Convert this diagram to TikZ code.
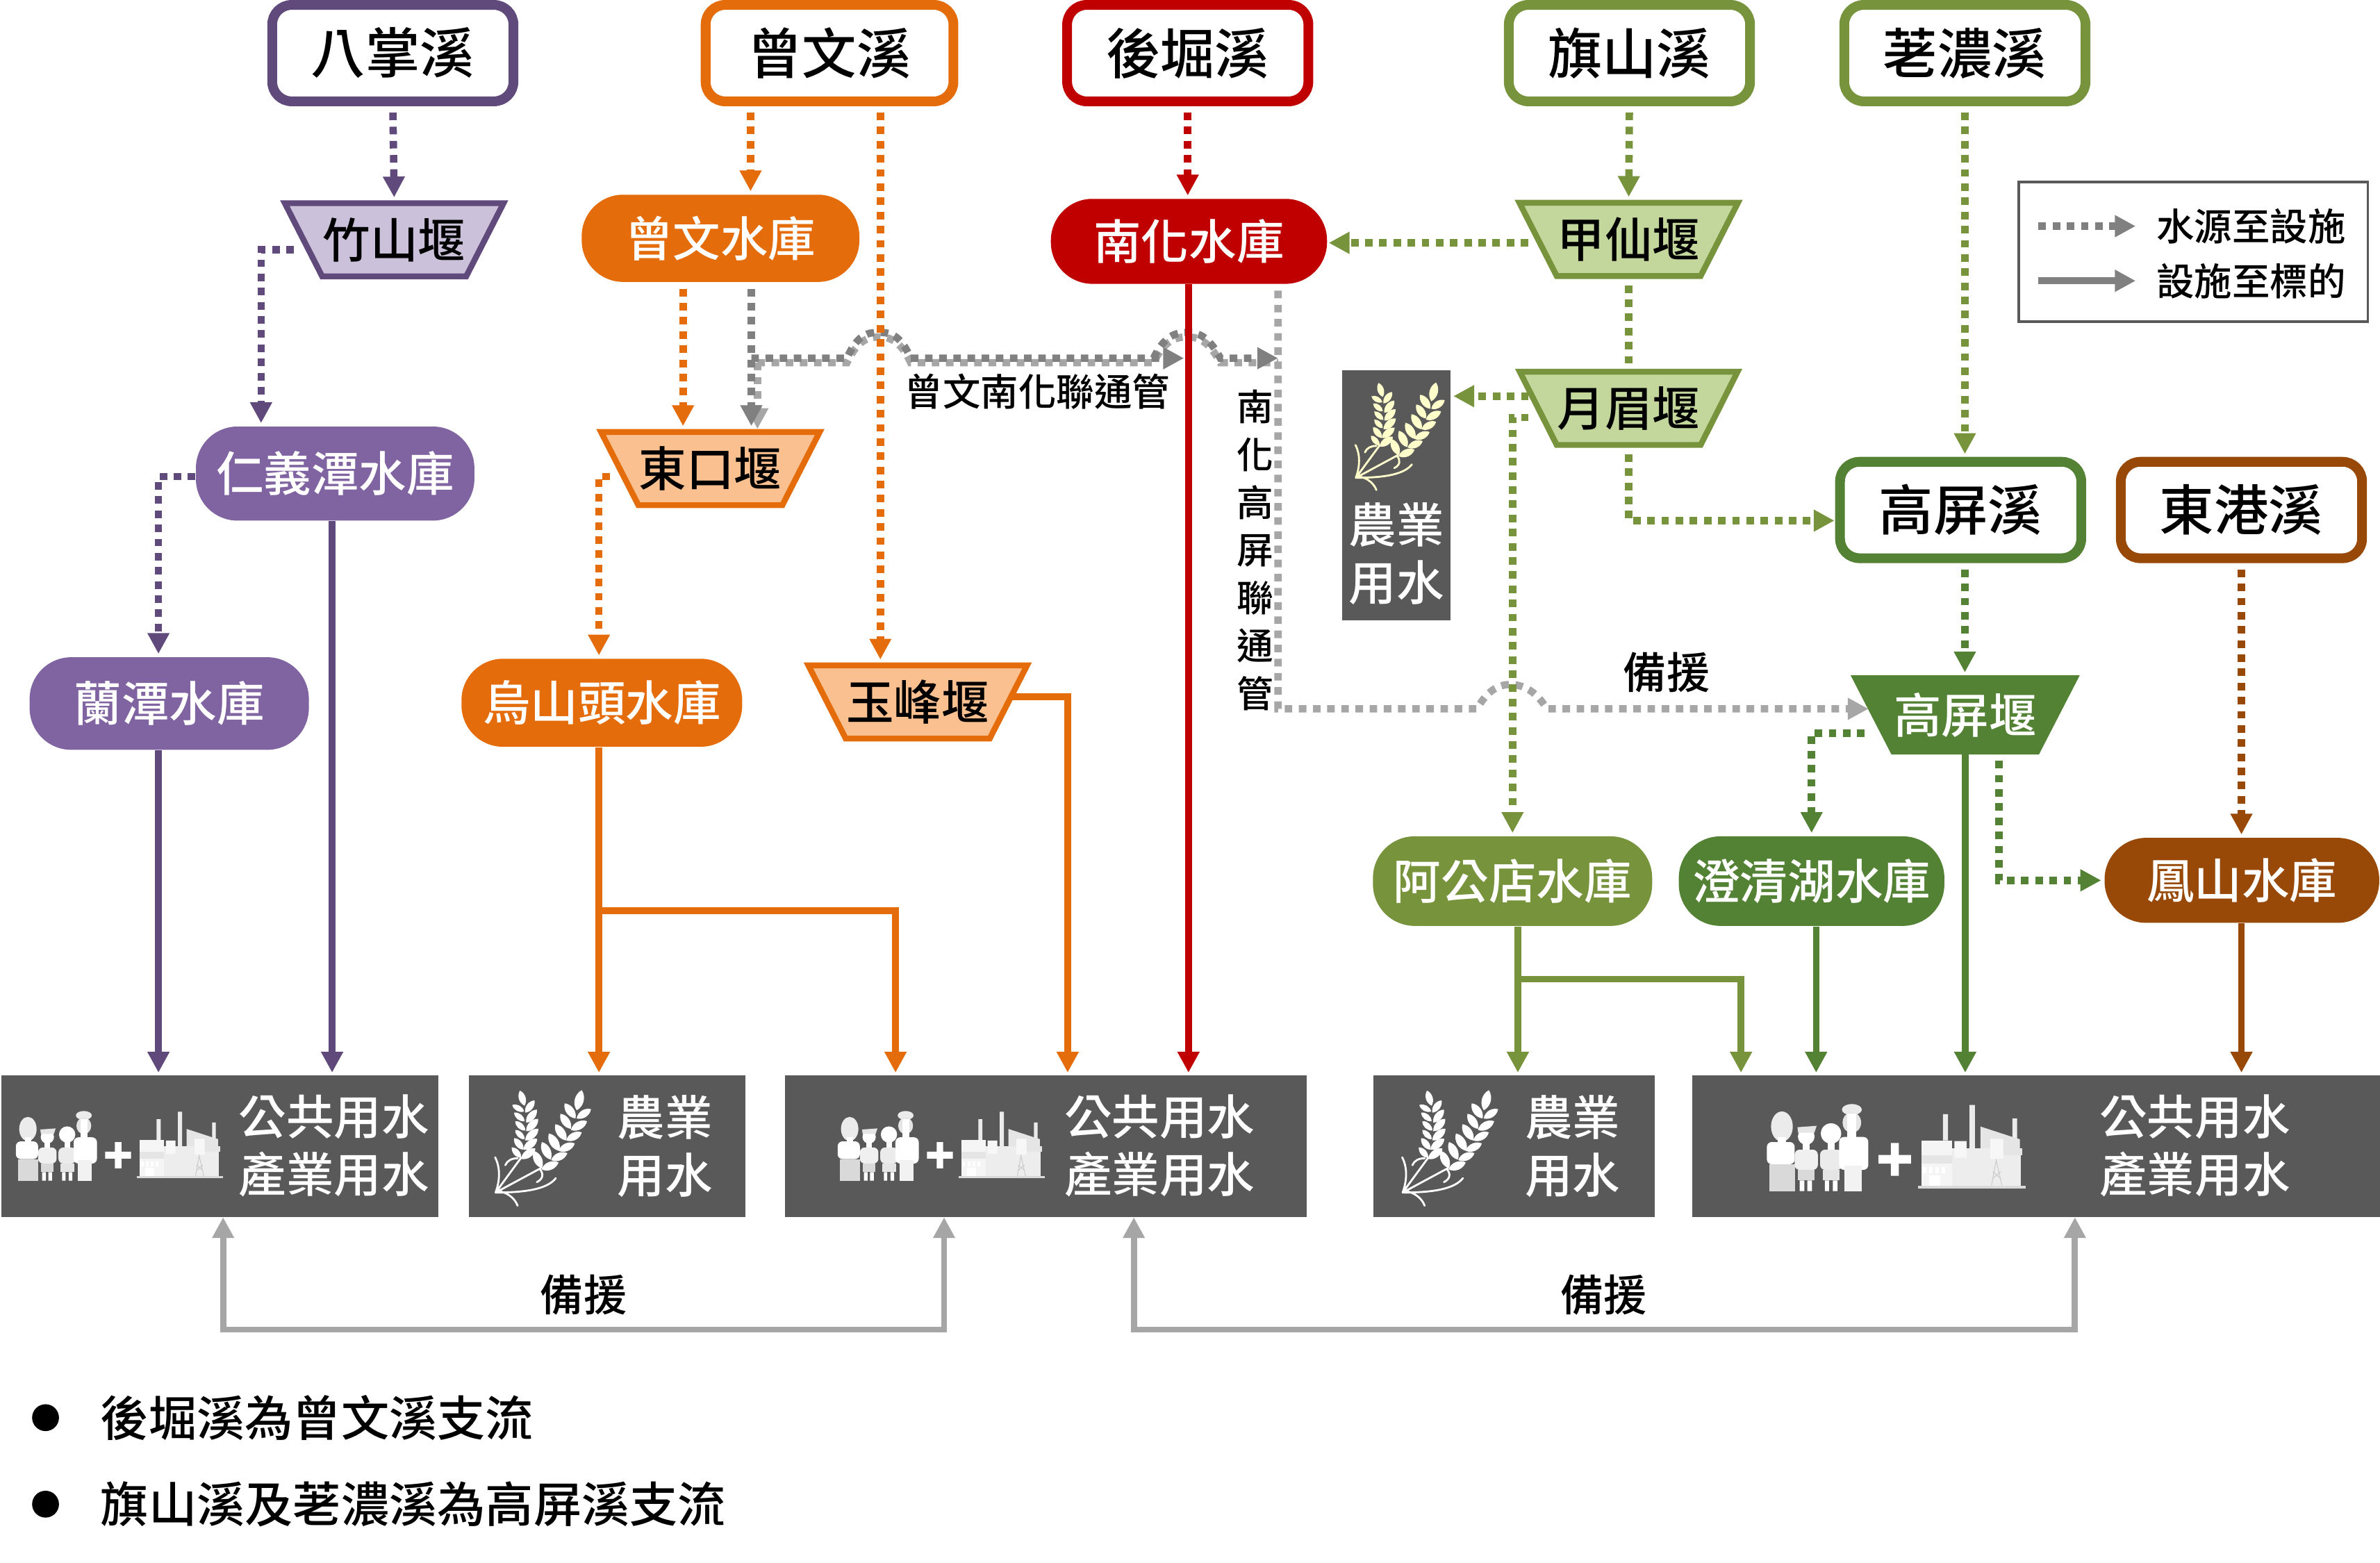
\documentclass[tikz,border=0pt]{standalone}
\usepackage{fontspec}
\setmainfont{Noto Sans CJK TC Medium}
\usetikzlibrary{arrows.meta,shapes.geometric,backgrounds}
\definecolor{purD}{HTML}{604A7B}
\definecolor{purM}{HTML}{8064A2}
\definecolor{purL}{HTML}{CCC1DA}
\definecolor{oraD}{HTML}{E46C0A}
\definecolor{oraL}{HTML}{FAC090}
\definecolor{redD}{HTML}{C00000}
\definecolor{oliD}{HTML}{77933C}
\definecolor{oliL}{HTML}{C3D69B}
\definecolor{greD}{HTML}{548235}
\definecolor{broD}{HTML}{984807}
\definecolor{panel}{HTML}{595959}
\definecolor{gryD}{HTML}{808080}
\definecolor{gryL}{HTML}{A6A6A6}
\definecolor{cream}{HTML}{FFFFCC}
\tikzset{
  river/.style={rectangle,draw=#1,fill=white,line width=4pt,rounded corners=8pt,minimum width=98.8pt,minimum height=39.5pt,inner sep=0pt,font=\fontsize{22.3}{26}\selectfont},
  weir/.style n args={2}{trapezium,trapezium stretches=true,shape border rotate=180,trapezium left angle=50,trapezium right angle=50,draw=#1,fill=#2,line width=2.4pt,minimum width=90pt,minimum height=30pt,inner sep=0pt,font=\fontsize{19.5}{23}\selectfont},
  pill/.style n args={3}{rectangle,fill=#1,text=white,rounded corners=17pt,minimum width=#2*0.6215pt,minimum height=#3*0.6215pt,inner sep=0pt,font=\fontsize{19.5}{23}\selectfont},
  target/.style n args={2}{rectangle,fill=panel,minimum width=#1*0.6215pt,minimum height=#2*0.6215pt,inner sep=0pt,outer sep=0pt},
  whitetext/.style={text=white,align=center,inner sep=0pt,font=\fontsize{19.5}{23.6}\selectfont},
  label/.style={inner sep=0pt,font=\fontsize{15.5}{19}\selectfont},
  backuplabel/.style={inner sep=0pt,font=\fontsize{17.7}{21}\selectfont},
  note/.style={anchor=west,inner sep=0pt,font=\fontsize{19.7}{24}\selectfont},
  dotdash/.style={dash pattern=on 3.1pt off 2.7pt,line width=3pt},
  feed/.style={draw=#1,dotdash,-{Triangle[length=8.5pt,width=8.5pt]},shorten <=2.6pt,shorten >=1.2pt},
  feedplain/.style={draw=#1,dotdash,shorten <=2.6pt},
  supply/.style={draw=#1,line width=2.7pt,-{Triangle[length=8.5pt,width=8.5pt]},shorten >=1.2pt},
  tieline/.style={draw=#1,dotdash},
  backup/.style={draw=gryL,line width=2.5pt,{Triangle[length=8.5pt,width=8.5pt]}-{Triangle[length=8.5pt,width=8.5pt]}},
  pics/wheat/.style={code={
    \foreach \a/\b/\c/\d in {165/155/145/90,163/180/112/152,165/222/120/185,168/262/125/222,165/300/125/260,160/345/120/295,150/380/110/335,
      168/185/208/132,172/228/218/172,172/265/224/212,168/305/225/255,160/345/220/298,150/385/212/340,
      390/175/412/88,385/210/338/145,365/255/320/190,345/305/298/235,315/350/270/275,278/388/240/312,240/425/205/350,
      390/210/452/170,365/260/435/222,345/305/412/270,312/350/382/318,280/390/350/360,238/430/312/400}
      {\fill[#1] (\a,\b) to[bend left=48] (\c,\d) to[bend left=48] (\a,\b);}
    \draw[#1,line width=.8pt,line cap=round]
      (40,530) -- (150,380) (40,530) -- (235,425)
      (40,530) .. controls (58,480) and (62,425) .. (38,378)
      (40,530) .. controls (150,530) and (260,520) .. (300,468)
      (60,525) .. controls (100,535) and (125,560) .. (135,587)
      (82,412) .. controls (90,392) and (110,382) .. (135,382)
      (218,485) .. controls (245,472) and (248,450) .. (232,430);
  }},
  pics/service/.style={code={
    % woman
    \fill[white!92!black] (195,245) ellipse[x radius=47,y radius=65];
    \fill[white] (178,290) rectangle (212,320);
    \fill[white,rounded corners=2pt] (130,312) rectangle (250,408);
    \fill[white!85!black] (142,408) rectangle (252,524);
    % boy
    \fill[white] (300,288) circle[radius=36];
    \fill[white] (285,315) rectangle (315,350);
    \fill[white!90!black] (262,248) -- (345,242) -- (335,272) -- (265,272) -- cycle;
    \fill[white!94!black,rounded corners=2pt] (250,345) rectangle (350,432);
    \fill[white!85!black] (265,432) rectangle (335,478);
    \fill[white] (272,478) rectangle (292,524) (305,478) rectangle (325,524);
    % girl
    \fill[white] (407,275) circle[radius=44];
    \fill[white] (393,312) rectangle (422,350);
    \fill[white!92!black,rounded corners=2pt] (360,345) rectangle (455,432);
    \fill[white!90!black] (372,432) rectangle (445,478);
    \fill[white] (380,478) rectangle (398,524) (415,478) rectangle (435,524);
    % man
    \fill[white!92!black] (497,172) ellipse[x radius=43,y radius=24];
    \fill[white!90!black] (497,228) ellipse[x radius=40,y radius=45];
    \fill[white] (478,190) rectangle (516,295);
    \fill[white,rounded corners=2pt] (442,290) rectangle (568,432);
    \fill[white!95!black] (465,415) rectangle (540,524);
    % plus
    \fill[white] (612,368) rectangle (752,405) (665,316) rectangle (700,458);
    % factory
    \fill[white!92!black] (890,192) rectangle (912,305) (1005,152) rectangle (1028,340) (1190,210) rectangle (1210,300);
    \fill[white!90!black] (1052,245) -- (1190,290) -- (1222,300) -- (1222,340) -- (1052,340) -- cycle;
    \fill[white!93!black] (930,340) rectangle (1225,500);
    \fill[white!96!black] (798,305) rectangle (930,500);
    \fill[white!90!black] (798,370) rectangle (930,405);
    \fill[white!97!black] (940,308) rectangle (992,380) (1095,298) rectangle (1150,385);
    \fill[white!90!black] (1150,340) rectangle (1232,370);
    \fill[white!85!black] (782,500) rectangle (1248,512);
    \fill[white] (830,455) rectangle (878,500);
    \foreach \q in {805,832,858,885} {\fill[white] (\q,420) rectangle +(14,28);}
    \draw[white!80!black,line width=.3pt] (1100,500) -- (1120,390) -- (1145,500) (1105,470) -- (1140,440) (1140,470) -- (1105,440);
  }}
}
\begin{document}
\begin{tikzpicture}[x=0.02185cm,y=-0.02185cm]
\useasboundingbox (0,0) rectangle (1568,1029.75);
% sources
\node[river=purD] (bazhang) at (258.8,35) {八掌溪};
\node[river=oraD,minimum width=101.5pt] (zengwenR) at (546.5,35) {曾文溪};
\node[river=redD] (houjue) at (782.5,35) {後堀溪};
\node[river=oliD] (qishan) at (1073.5,35) {旗山溪};
\node[river=oliD] (laonong) at (1294.5,35) {荖濃溪};
\node[river=greD] (gaopingR) at (1291.7,336) {高屏溪};
\node[river=broD] (donggang) at (1476.7,336) {東港溪};
% weirs
\node[weir={purD}{purL}] (zhushan) at (259.7,158) {竹山堰};
\node[weir={oraD}{oraL}] (dongkou) at (468,308.7) {東口堰};
\node[weir={oraD}{oraL}] (yufeng) at (604.6,462.5) {玉峰堰};
\node[weir={oliD}{oliL}] (jiaxian) at (1073,157.7) {甲仙堰};
\node[weir={oliD}{oliL}] (yuemei) at (1073,269) {月眉堰};
\node[weir={greD}{greD},text=white] (gaopingW) at (1294.7,471) {高屏堰};
% reservoirs
\node[pill={oraD}{183}{57.5}] (zengwen) at (474.7,157) {曾文水庫};
\node[pill={redD}{182}{56}] (nanhua) at (783.3,159) {南化水庫};
\node[pill={purM}{183.5}{62}] (renyi) at (220.8,312) {仁義潭水庫};
\node[pill={purM}{184}{61}] (lantan) at (111.5,463.5) {蘭潭水庫};
\node[pill={oraD}{185}{58}] (wushan) at (396.5,463) {烏山頭水庫};
\node[pill={oliD}{184}{59}] (agong) at (996.5,580.5) {阿公店水庫};
\node[pill={greD}{175}{59}] (chengqing) at (1193.5,580.5) {澄清湖水庫};
\node[pill={broD}{181}{56}] (fengshan) at (1477,580) {鳳山水庫};
% targets
\node[target={288}{93.4}] (t1) at (145,755.3) {};
\node[target={182}{93.4}] (t2) at (400,755.3) {};
\node[target={344}{93.4}] (t3) at (689,755.3) {};
\node[target={185}{93.4}] (t4) at (997.5,755.3) {};
\node[target={453}{93.4}] (t5) at (1341.5,755.3) {};
\node[target={71.6}{164.7}] (t6) at (919.8,326.3) {};
\node[whitetext] (t1text) at (220,755) {公共用水\\產業用水};
\node[whitetext] (t2text) at (438,755) {農業\\用水};
\node[whitetext] (t3text) at (764,755) {公共用水\\產業用水};
\node[whitetext] (t4text) at (1036,755) {農業\\用水};
\node[whitetext] (t5text) at (1446,755) {公共用水\\產業用水};
\node[whitetext] (t6text) at (920,365) {農業\\用水};
\pic[scale=.122] at (-5.4,713.9) {service};
\pic[scale=.122] at (536,713.9) {service};
\pic[scale=.1526] at (1144.2,704.8) {service};
\pic[scale=.1526] at (320.4,704.8) {wheat=white};
\pic[scale=.1526] at (918,704.8) {wheat=white};
\pic[scale=.142] at (887.6,239.5) {wheat=cream};
% labels
\node[label] (pipeA) at (683.5,258) {曾文南化聯通管};
\node[label,align=center,font=\fontsize{15}{19.6}\selectfont] (pipeB) at (827,362.5) {南\\化\\高\\屏\\聯\\通\\管};
\node[backuplabel] (b1) at (384.5,853) {備援};
\node[backuplabel] (b2) at (1056.5,853) {備援};
\node[backuplabel] (b3) at (1098,443) {備援};
\coordinate (c1) at (384.5,876);
\coordinate (c2) at (1056.5,876);
% legend
\node[draw=panel,line width=1pt,rectangle,minimum width=230*0.6215pt,minimum height=92*0.6215pt,inner sep=0pt] (legend) at (1445,166) {};
\coordinate (lgA) at (1343,149);
\coordinate (lgB) at (1343,185);
\coordinate (lgC) at (1407,149);
\coordinate (lgD) at (1407,185);
\node[label] (lg1) at (1483,149) {水源至設施};
\node[label] (lg2) at (1483,185) {設施至標的};
% notes
\node[circle,fill=black,minimum size=11pt,inner sep=0pt] (n1) at (30,934) {};
\node[circle,fill=black,minimum size=11pt,inner sep=0pt] (n2) at (30,991) {};
\node[note] (s1) at (66,934) {後堀溪為曾文溪支流};
\node[note] (s2) at (66,991) {旗山溪及荖濃溪為高屏溪支流};
% connectors
\begin{scope}[on background layer]
\coordinate (pipeStart) at (495,236);
% tie pipes
\draw[tieline=gryL] (499,239) -- (558,239) .. controls (565,224) and (572,222) .. (579,222) .. controls (586,222) and (593,224) .. (600,239) -- (760,239) .. controls (767,224) and (775,222) .. (782,222) .. controls (789,222) and (796,224) .. (804,239) -- (842,239);
\draw[draw=gryL,dotdash,-{Triangle[length=8.5pt,width=8.5pt]}] (499,239) -- (dongkou.north -| 499,0);
\draw[feed=gryD,shorten >=1.2pt] (zengwen.south -| pipeStart) -- (dongkou.north -| pipeStart);
\draw[tieline=gryD,-{Triangle[length=8.5pt,width=8.5pt]}] (pipeStart) -- (558,236) .. controls (565,220) and (572,219) .. (579,219) .. controls (586,219) and (593,220) .. (600,236) -- (780,236);
\draw[tieline=gryD,-{Triangle[length=8.5pt,width=8.5pt]}] (760,236) .. controls (767,221) and (775,219) .. (782,219) .. controls (789,219) and (796,221) .. (804,236) -- (842,236);
\draw[feedplain=gryL,shorten <=2.6pt,-{Triangle[length=8.5pt,width=8.5pt]}] (nanhua.south -| 842,0) -- (842,467) -- (973,467) .. controls (980,455) and (987,451) .. (995,451) .. controls (1003,451) and (1012,455) .. (1019,467) -- (1231,467);
% source to facility
\draw[feed=purD] (bazhang.south) -- (zhushan.north);
\draw[feed=purD] (zhushan.west |- 0,164.6) -| (renyi.north -| 172,0);
\draw[feed=purD,shorten <=0pt] (renyi.west |- 0,314) -| (lantan.north -| 104.4,0);
\draw[feed=oraD] (zengwenR.south -| 494.5,0) -- (zengwen.north -| 494.5,0);
\draw[feed=oraD] (zengwenR.south -| 580,0) -- (yufeng.north -| 580,0);
\draw[feed=oraD] (zengwen.south -| 450,0) -- (dongkou.north -| 450,0);
\draw[feed=oraD] (dongkou.west |- 0,314) -| (wushan.north -| 394.6,0);
\draw[feed=redD] (houjue.south) -- (nanhua.north -| houjue.south);
\draw[feed=oliD] (qishan.south) -- (jiaxian.north);
\draw[feed=oliD,shorten >=0.5pt] (jiaxian.west |- 0,160) -- (nanhua.east |- 0,160);
\draw[feedplain=oliD] (jiaxian.south) -- (yuemei.north);
\draw[feed=oliD] (yuemei.west |- 0,261) -- (t6.east |- 0,261);
\draw[feed=oliD] (yuemei.west |- 0,275) -| (agong.north -| 996.5,0);
\draw[feed=oliD,shorten >=0.3pt] (yuemei.south) |- (gaopingR.west |- 0,343);
\draw[feed=oliD] (laonong.south) -- (gaopingR.north -| laonong.south);
\draw[feed=greD] (gaopingR.south -| laonong.south) -- (gaopingW.north -| laonong.south);
\draw[feed=greD] (gaopingW.west |- 0,483) -| (chengqing.north -| 1193.5,0);
\draw[feed=greD] (gaopingW.south -| 1317,0) |- (fengshan.west |- 0,580);
\draw[feed=broD] (donggang.south) -- (fengshan.north -| donggang.south);
% facility to target
\draw[supply=purD] (renyi.south -| 218.8,0) -- (t1.north -| 218.8,0);
\draw[supply=purD] (lantan.south -| 104.4,0) -- (t1.north -| 104.4,0);
\draw[supply=oraD] (wushan.south -| 394.6,0) -- (t2.north -| 394.6,0);
\draw[supply=oraD] (394.6,600) -| (t3.north -| 590,0);
\draw[supply=oraD] (yufeng.east |- 0,459) -| (t3.north -| 703.4,0);
\draw[supply=redD] (nanhua.south -| 783,0) -- (t3.north -| 783,0);
\draw[supply=oliD] (agong.south -| 1000,0) -- (t4.north -| 1000,0);
\draw[supply=oliD] (1000,645) -| (t5.north -| 1147,0);
\draw[supply=greD] (chengqing.south -| 1196.5,0) -- (t5.north -| 1196.5,0);
\draw[supply=greD] (gaopingW.south) -- (t5.north -| gaopingW.south);
\draw[supply=broD] (fengshan.south -| 1476.7,0) -- (t5.north -| 1476.7,0);
% backup
\draw[backup] (t1.south -| 147,0) |- (c1) -| (t3.south -| 622,0);
\draw[backup] (t3.south -| 747,0) |- (c2) -| (t5.south -| 1367,0);
% legend arrows
\draw[draw=gryD,dotdash,-{Triangle[length=8.5pt,width=8.5pt]}] (lgA) -- (lgC);
\draw[draw=gryD,line width=2.7pt,-{Triangle[length=8.5pt,width=8.5pt]}] (lgB) -- (lgD);
\end{scope}
\end{tikzpicture}
\end{document}
